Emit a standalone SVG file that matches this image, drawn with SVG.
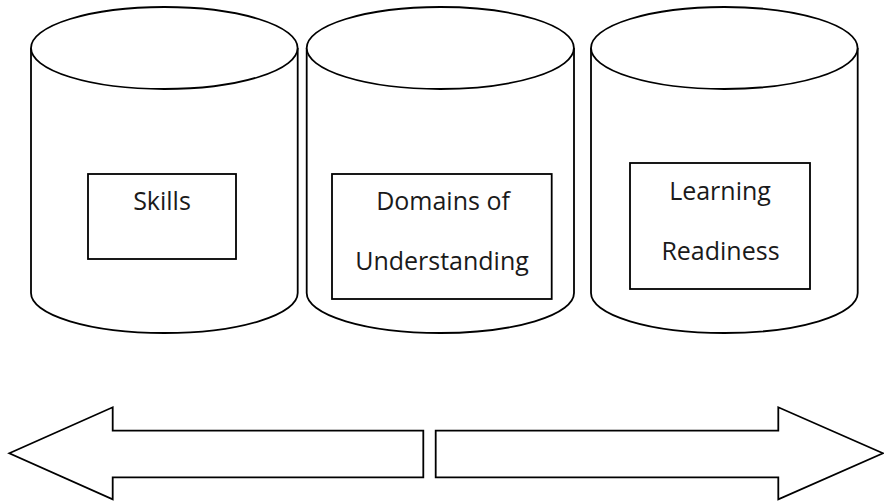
<svg xmlns="http://www.w3.org/2000/svg" width="884" height="504" viewBox="0 0 884 504">
<style>
.s{fill:#fff;stroke:#000;stroke-width:1.8;stroke-linejoin:miter}
.t{font-family:"Open Sans",Lato,sans-serif;font-size:25px;fill:#1a1a1a;text-anchor:middle}
</style>
<rect width="884" height="504" fill="#fff"/>
<g id="cyl-skills">
<path class="s" d="M31,48 L31,293 A133.3,40 0 0 0 297.7,293 L297.7,48"/>
<ellipse class="s" cx="164.3" cy="48" rx="133.3" ry="41"/>
<rect class="s" x="88" y="174" width="148" height="85"/>
<text class="t" x="162" y="210">Skills</text>
</g>
<g id="cyl-domains">
<path class="s" d="M306.7,48 L306.7,293 A133.6,40 0 0 0 574,293 L574,48"/>
<ellipse class="s" cx="440.3" cy="48" rx="133.6" ry="41"/>
<rect class="s" x="332" y="174" width="219.7" height="125"/>
<text class="t" x="443" y="210">Domains of</text>
<text class="t" x="442" y="270">Understanding</text>
</g>
<g id="cyl-learning">
<path class="s" d="M591,48 L591,293 A133.3,40 0 0 0 857.7,293 L857.7,48"/>
<ellipse class="s" cx="724.3" cy="48" rx="133.3" ry="41"/>
<rect class="s" x="630" y="163" width="180" height="126"/>
<text class="t" x="720" y="200">Learning</text>
<text class="t" x="720.5" y="260">Readiness</text>
</g>
<g id="connectors">
<polygon class="s" points="9.3,453.3 112.7,407.3 112.7,430.7 423.3,430.7 423.3,477.3 112.7,477.3 112.7,499.3"/>
<polygon class="s" points="883,453.3 778.3,407.3 778.3,430.7 435.7,430.7 435.7,477.3 778.3,477.3 778.3,499.3"/>
</g>
</svg>
